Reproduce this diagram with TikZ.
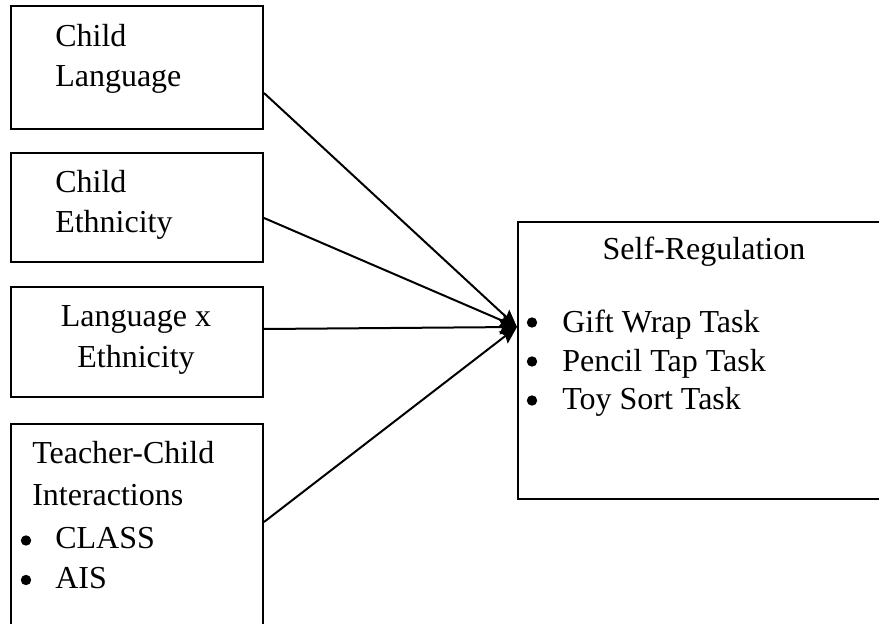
\documentclass[tikz,border=0pt]{standalone}
\usepackage{fontspec}
\setmainfont{Liberation Serif}
\usetikzlibrary{calc,arrows.meta}

\begin{document}
\begin{tikzpicture}[x=0.75pt, y=-0.75pt,
    box/.style={draw, line width=1.5pt, inner sep=0pt, anchor=north west},
    txt/.style={inner sep=0pt, anchor=base west, font=\fontsize{24}{30}\selectfont},
    ctxt/.style={txt, anchor=base},
    dot/.style={circle, fill, inner sep=0pt, minimum size=7.8pt},
    link/.style={line width=1.5pt, -{Stealth[length=13pt, width=11pt, inset=2pt]}}]
  \useasboundingbox (0,0) rectangle (879,624);
  % predictor boxes
  \node[box, minimum width=189pt, minimum height=92.25pt] (lang) at (10,5) {};
  \node[box, minimum width=189pt, minimum height=81.75pt] (eth) at (10,152) {};
  \node[box, minimum width=189pt, minimum height=82.5pt] (inter) at (10,286) {};
  \node[box, minimum width=189pt, minimum height=155.25pt] (tci) at (10,423) {};
  % outcome box
  \node[box, minimum width=276pt, minimum height=207.75pt] (selfreg) at (517,221) {};
  % texts
  \node[txt] (langA) at (55,47) {Child};
  \node[txt] (langB) at (55,87) {Language};
  \node[txt] (ethA) at (55,193) {Child};
  \node[txt] (ethB) at (55,233) {Ethnicity};
  \node[ctxt] (interA) at (136,326) {Language x};
  \node[ctxt] (interB) at (136,367) {Ethnicity};
  \node[txt] (tciA) at (32,463) {Teacher-Child};
  \node[txt] (tciB) at (32,505) {Interactions};
  \node[dot] (tciDotA) at (26,540.5) {};
  \node[txt] (tciC) at (55,548) {CLASS};
  \node[dot] (tciDotB) at (26,580) {};
  \node[txt] (tciD) at (55,588) {AIS};
  \node[ctxt] (srA) at (704,260) {Self-Regulation};
  \node[dot] (srDotA) at (532,322.5) {};
  \node[txt] (srB) at (562,332) {Gift Wrap Task};
  \node[dot] (srDotB) at (532,361.5) {};
  \node[txt] (srC) at (562,371) {Pencil Tap Task};
  \node[dot] (srDotC) at (532,400.5) {};
  \node[txt] (srD) at (562,409) {Toy Sort Task};
  % paths into self-regulation
  \coordinate (tip) at ($(selfreg.north west)+(0,106)$);
  \draw[link] ($(lang.north east)+(0,88)$) -- (tip);
  \draw[link] ($(eth.north east)+(0,66)$) -- (tip);
  \draw[link] ($(inter.north east)+(0,43)$) -- (tip);
  \draw[link] ($(tci.north east)+(0,99)$) -- (tip);
\end{tikzpicture}
\end{document}
